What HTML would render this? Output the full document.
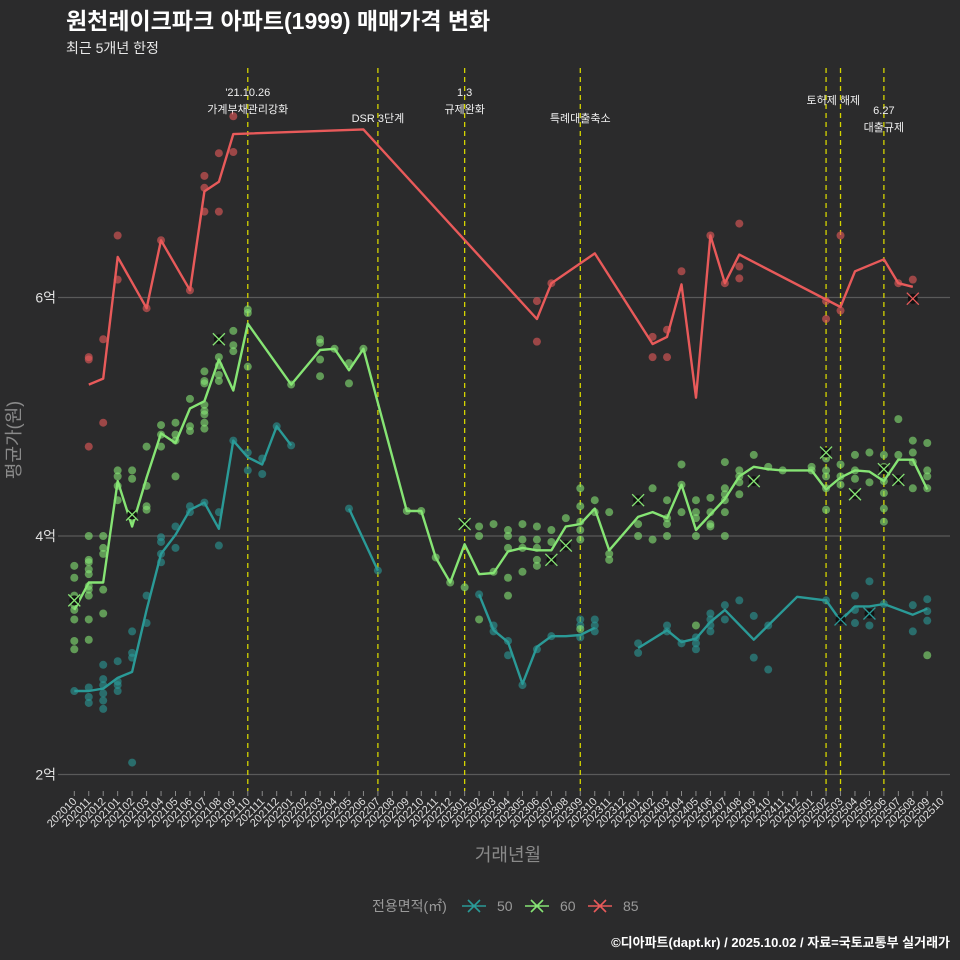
<!DOCTYPE html>
<html><head><meta charset="utf-8"><style>
html,body{margin:0;padding:0;background:#2b2b2c;overflow:hidden;width:960px;height:960px;}
svg{display:block;}
svg text{font-family:"Liberation Sans","Noto Sans CJK KR",sans-serif;}
</style></head><body>
<svg id="c" width="960" height="960" xmlns="http://www.w3.org/2000/svg">
<rect width="960" height="960" fill="#2b2b2c"/>
<text x="66" y="29" font-size="23" font-weight="bold" fill="#ffffff">원천레이크파크 아파트(1999) 매매가격 변화</text>
<text x="66" y="53" font-size="14" fill="#e8e8e8">최근 5개년 한정</text>
<g id="grid"></g><g id="events"></g><g id="pts"></g><g id="lines"></g><g id="xax"></g>
<text x="508" y="861" font-size="18" fill="#8a8a8a" text-anchor="middle">거래년월</text>
<text transform="translate(20,440) rotate(-90)" font-size="18" fill="#8a8a8a" text-anchor="middle">평균가(원)</text>
<g id="legend">
<text x="372" y="911" font-size="14" fill="#9a9a9a">전용면적(㎡)</text>
</g>
<text x="950" y="947" font-size="13" font-weight="bold" fill="#ffffff" text-anchor="end">©디아파트(dapt.kr) / 2025.10.02 / 자료=국토교통부 실거래가</text>
</svg>
<script>
const months=[];for(let y=2020,m=10;months.length<61;){months.push(y+String(m).padStart(2,'0'));m++;if(m>12){m=1;y++;}}
const yTicks=[2,4,6];
const yTickLabels=['2억','4억','6억'];
const eventIdx=[12,21,27,35,52,53,56];
const eventLabels=[["'21.10.26","가계부채관리강화"],["DSR 3단계"],["1.3","규제완화"],["특례대출축소"],["토허제 해제"],[],["6.27","대출규제"]];
const line50=[[0,2.70],[1,2.70],[2,2.72],[3,2.81],[4,2.86],[5,3.38],[6,3.85],[7,4.01],[8,4.22],[9,4.28],[10,4.06],[11,4.80],[12,4.66],[13,4.60],[14,4.92],[15,4.76],null,[19,4.23],[21,3.71],null,[28,3.51],[29,3.21],[30,3.11],[31,2.76],[32,3.07],[33,3.16],[34,3.16],[35,3.17],[36,3.23],null,[39,3.06],[41,3.21],[42,3.11],[43,3.14],[44,3.28],[45,3.38],[47,3.13],[50,3.49],[52,3.46],[53,3.29],[54,3.41],[55,3.41],[56,3.43],[58,3.34],[59,3.39]];
const line60=[[0,3.38],[1,3.61],[2,3.61],[3,4.46],[4,4.08],[5,4.49],[6,4.86],[7,4.78],[8,5.07],[9,5.13],[10,5.48],[11,5.22],[12,5.78],[15,5.27],[17,5.56],[18,5.57],[19,5.39],[20,5.57],[23,4.21],[24,4.21],[25,3.82],[26,3.61],[27,3.93],[28,3.68],[29,3.69],[30,3.87],[31,3.90],[32,3.88],[33,3.88],[34,4.08],[35,4.10],[36,4.23],[37,3.88],[39,4.16],[40,4.20],[41,4.15],[42,4.43],[43,4.05],[44,4.18],[45,4.31],[46,4.50],[47,4.58],[48,4.56],[49,4.55],[51,4.55],[52,4.39],[53,4.49],[54,4.55],[55,4.54],[56,4.46],[57,4.64],[58,4.64],[59,4.39]];
const line85=[[1,5.27],[2,5.32],[3,6.34],[5,5.91],[6,6.48],[8,6.06],[9,6.89],[10,6.97],[11,7.37],[20,7.41],[32,5.82],[33,6.12],[36,6.37],[40,5.61],[41,5.67],[42,6.11],[43,5.16],[44,6.52],[45,6.12],[46,6.36],[53,5.92],[54,6.22],[56,6.32],[57,6.12],[58,6.09]];
const pts50=[[0,[2.70]],[1,[2.73,2.65,2.60]],[2,[2.92,2.80,2.75,2.68,2.62,2.55]],[3,[2.95,2.78,2.75,2.70]],[4,[3.20,2.98,3.02,2.10]],[5,[3.50,3.27]],[6,[3.99,3.95,3.85,3.78]],[7,[4.08,3.90]],[8,[4.25,4.20]],[9,[4.28]],[10,[4.20,3.92]],[11,[4.80]],[12,[4.70,4.55]],[13,[4.65,4.52]],[14,[4.92]],[15,[4.76]],[19,[4.23]],[21,[3.71]],[28,[3.51]],[29,[3.25,3.20]],[30,[3.12,3.00]],[31,[2.75]],[32,[3.05]],[33,[3.16]],[35,[3.30,3.25,3.15]],[36,[3.30,3.25,3.20]],[39,[3.10,3.02]],[41,[3.25,3.20]],[42,[3.10]],[43,[3.15,3.10,3.05]],[44,[3.35,3.30,3.25,3.20]],[45,[3.42,3.30]],[46,[3.46]],[47,[3.33,2.98]],[48,[3.25,2.88]],[52,[3.46]],[53,[3.30]],[54,[3.50,3.38,3.27]],[55,[3.62,3.35,3.25]],[56,[3.43]],[58,[3.42,3.20]],[59,[3.47,3.37,3.29]]];
const pts60=[[0,[3.75,3.65,3.50,3.42,3.38,3.30,3.12,3.05]],[1,[4.00,3.80,3.78,3.72,3.68,3.58,3.55,3.50,3.30,3.13]],[2,[4.00,3.90,3.85,3.55,3.35]],[3,[4.55,4.50,4.42,4.30]],[4,[4.55,4.48,4.15]],[5,[4.75,4.42,4.25,4.22]],[6,[4.93,4.85,4.75]],[7,[4.95,4.85,4.80,4.50]],[8,[5.15,4.92,4.88]],[9,[5.38,5.30,5.28,5.10,5.05,5.02,4.95,4.90]],[10,[5.65,5.50,5.43,5.35,5.30]],[11,[5.72,5.60,5.55]],[12,[5.90,5.87,5.42]],[15,[5.27]],[17,[5.65,5.62,5.48,5.34]],[18,[5.57]],[19,[5.45,5.28]],[20,[5.57]],[23,[4.21]],[24,[4.21]],[25,[3.82]],[26,[3.61]],[27,[4.10,3.57]],[28,[4.08,4.00,3.30]],[29,[4.10,3.70]],[30,[4.05,4.00,3.90,3.65,3.50]],[31,[4.10,3.97,3.90,3.70]],[32,[4.08,3.97,3.90,3.80,3.75]],[33,[4.05,3.95,3.80]],[34,[4.15,3.92]],[35,[4.40,4.25,4.12,4.05,3.97,3.22]],[36,[4.30,4.20]],[37,[4.20,3.85,3.80]],[39,[4.30,4.10,4.00]],[40,[4.40,3.97]],[41,[4.30,4.15,4.10,4.00]],[42,[4.60,4.43,4.20]],[43,[4.30,4.20,4.15,4.00,3.25]],[44,[4.32,4.20,4.10,4.08]],[45,[4.62,4.40,4.35,4.30,4.20,4.00]],[46,[4.55,4.50,4.45,4.35]],[47,[4.68,4.46]],[48,[4.58]],[49,[4.55]],[51,[4.58,4.55]],[52,[4.70,4.65,4.55,4.50,4.40,4.22]],[53,[4.60,4.50,4.43]],[54,[4.68,4.55,4.48,4.35]],[55,[4.70,4.45]],[56,[4.68,4.58,4.46,4.36,4.23,4.12]],[57,[4.98,4.68,4.47]],[58,[4.80,4.70,4.62,4.40]],[59,[4.78,4.55,4.50,4.40,3.00]]];
const pts85=[[1,[5.50,5.48,4.75]],[2,[5.65,4.95]],[3,[6.52,6.15]],[5,[5.91]],[6,[6.48]],[8,[6.06]],[9,[7.02,6.92,6.72]],[10,[7.21,6.72]],[11,[7.52,7.22]],[32,[5.97,5.63]],[33,[6.12]],[40,[5.67,5.50]],[41,[5.73,5.50]],[42,[6.22]],[44,[6.52]],[45,[6.12]],[46,[6.62,6.26,6.16]],[52,[5.97,5.82]],[53,[6.52,5.89]],[57,[6.12]],[58,[6.15,5.99]]];
const marks50=[[53,3.30],[55,3.35]];
const marks60=[[0,3.46],[4,4.18],[10,5.65],[27,4.10],[33,3.80],[34,3.92],[39,4.30],[47,4.46],[52,4.70],[54,4.35],[56,4.56],[57,4.47]];
const marks85=[[58,5.99]];
const X=i=>74.3+i*14.457, Y=v=>536-(v-4)*119.25;
const NS='http://www.w3.org/2000/svg';
function mk(tag,attrs,parent){const e=document.createElementNS(NS,tag);for(const k in attrs)e.setAttribute(k,attrs[k]);parent.appendChild(e);return e;}
const g=document.getElementById('grid'),ev=document.getElementById('events'),pg=document.getElementById('pts'),lg=document.getElementById('lines'),xa=document.getElementById('xax');
yTicks.forEach((t,k)=>{const l=mk('line',{x1:58,x2:950,y1:Y(t),y2:Y(t),stroke:'#5a5a5a','stroke-width':1.2},g);

const tx=mk('text',{x:56,y:Y(t)+5,'font-size':14,fill:'#e0e0e0','text-anchor':'end'},g);tx.textContent=yTickLabels[k];
});
months.forEach((m,i)=>{const t=mk('line',{x1:X(i),x2:X(i),y1:791,y2:796,stroke:'#888','stroke-width':1},xa);

const tx=mk('text',{transform:`translate(${X(i)+3},${802}) rotate(-45)`,'font-size':11,fill:'#e0e0e0','text-anchor':'end'},xa);tx.textContent=m;
});
eventIdx.forEach((i,k)=>{const l=mk('line',{x1:X(i),x2:X(i),y1:68,y2:791,stroke:'#d4d400','stroke-width':1.3,'stroke-dasharray':'5,4'},ev);

const lab=eventLabels[k];let ys;let cx=X(i);
if(lab.length==2)ys=k==6?[114,131]:[96,113];else ys=k==4?[104]:[122];
if(k==4)cx=(X(52)+X(53))/2;
lab.forEach((s,j)=>{const tx=mk('text',{x:cx,y:ys[j],'font-size':11,fill:'#f0f0f0','text-anchor':'middle'},ev);tx.textContent=s;
});});
const series=[[pts50,line50,marks50,'#2a9a97','50'],[pts60,line60,marks60,'#86e474','60'],[pts85,line85,marks85,'#e85a5a','85']];
series.forEach(([pts,ln,mks,col,nm])=>{
pts.forEach(([i,vs])=>vs.forEach(v=>{const c=mk('circle',{cx:X(i),cy:Y(v),r:4,fill:col,'fill-opacity':0.6},pg);
}));
let d='',pen=false;ln.forEach(p=>{if(!p){pen=false;return;}d+=(pen?'L':'M')+X(p[0]).toFixed(1)+','+Y(p[1]).toFixed(1);pen=true;});
const pth=mk('path',{d:d,fill:'none',stroke:col,'stroke-width':2.4,'stroke-linejoin':'round'},lg);

mks.forEach(([i,v])=>{const x=X(i),y=Y(v);
const c=mk('circle',{cx:x,cy:y,r:5,fill:'#111'},lg);
const p=mk('path',{d:`M${x-6},${y-6}L${x+6},${y+6}M${x-6},${y+6}L${x+6},${y-6}`,stroke:col,'stroke-width':1.3},lg);
});
});
const leg=document.getElementById('legend');
[[474,'#2a9a97','50'],[537,'#86e474','60'],[600,'#e85a5a','85']].forEach(([x,col,nm])=>{
const l=mk('path',{d:`M${x-12},906H${x+12}M${x-6},900L${x+6},912M${x-6},912L${x+6},900`,stroke:col,'stroke-width':1.6},leg);

const tx=mk('text',{x:x+23,y:911,'font-size':14,fill:'#9a9a9a'},leg);tx.textContent=nm;
});
</script>
</body></html>
